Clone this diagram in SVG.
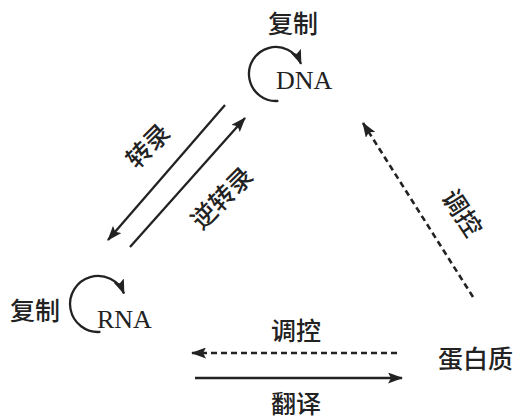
<svg xmlns="http://www.w3.org/2000/svg" width="525" height="420" viewBox="0 0 525 420">
<defs>
<style>
.cn{font-family:"Noto Sans CJK SC","Noto Sans",sans-serif;font-size:25px;font-weight:500;fill:#222}
.mol{font-family:"Liberation Serif",serif;font-size:26px;fill:#222}
.ln{fill:none;stroke:#222;stroke-width:2.3}
.dash{fill:none;stroke:#222;stroke-width:2.6;stroke-dasharray:6 4}
</style>
<marker id="ah" viewBox="0 0 15 11" refX="14" refY="5.5" markerWidth="15" markerHeight="11" markerUnits="userSpaceOnUse" orient="auto">
<path d="M0,0 L15,5.5 L0,11 L3,5.5 Z" fill="#222"/>
</marker>
</defs>
<g id="node-dna">
<text class="cn" x="293" y="33" text-anchor="middle">复制</text>
<text class="mol" x="276" y="89">DNA</text>
</g>
<g id="node-rna">
<text class="cn" x="10" y="320">复制</text>
<text class="mol" x="97" y="328">RNA</text>
</g>
<g id="node-protein">
<text class="cn" x="438" y="368">蛋白质</text>
</g>
<g id="connectors">
<path class="ln" d="M278.4,100.9 A27,27 0 1 1 301,63.9" marker-end="url(#ah)"/>
<path class="ln" d="M100.4,331.9 A28,28 0 1 1 124,293.5" marker-end="url(#ah)"/>
<line class="ln" x1="225" y1="105" x2="108" y2="240" marker-end="url(#ah)"/>
<line class="ln" x1="130" y1="247" x2="245" y2="118" marker-end="url(#ah)"/>
<line class="dash" x1="473" y1="297" x2="363" y2="123" marker-end="url(#ah)"/>
<line class="dash" x1="397" y1="353" x2="192" y2="353" marker-end="url(#ah)"/>
<line class="ln" x1="195" y1="378" x2="402" y2="378" marker-end="url(#ah)"/>
</g>
<g id="labels">
<text class="cn" transform="translate(148,146) rotate(-45)" x="0" y="9" text-anchor="middle">转录</text>
<text class="cn" transform="translate(222,198) rotate(-45)" x="0" y="9" text-anchor="middle">逆转录</text>
<text class="cn" transform="translate(462,213) rotate(57)" x="0" y="9" text-anchor="middle">调控</text>
<text class="cn" x="296" y="340" text-anchor="middle">调控</text>
<text class="cn" x="296" y="413" text-anchor="middle">翻译</text>
</g>
</svg>
